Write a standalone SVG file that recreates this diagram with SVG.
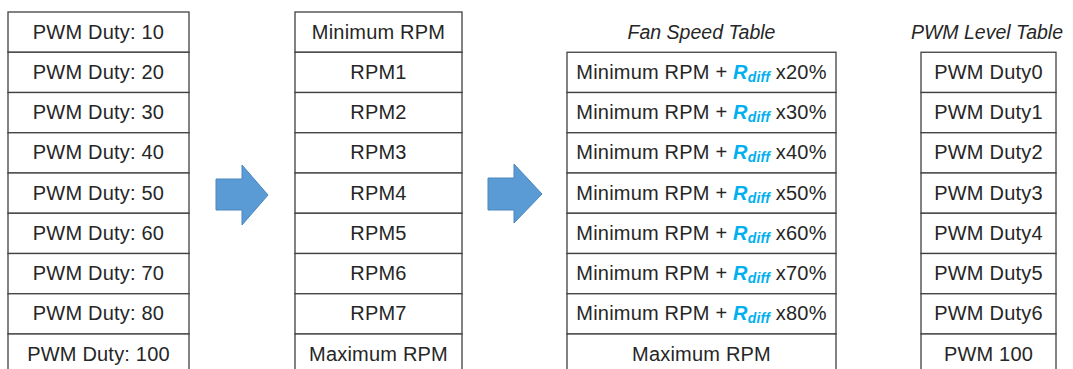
<svg xmlns="http://www.w3.org/2000/svg" width="1073" height="369" viewBox="0 0 1073 369">
<style>
.cell{fill:#fff;stroke:#404040;stroke-width:1.3}
.t{font-family:"Liberation Sans",Arial,sans-serif;font-size:20px;letter-spacing:0.2px;fill:#262626;text-anchor:middle}
.title{font-family:"Liberation Sans",Arial,sans-serif;font-size:19.5px;font-style:italic;fill:#262626;text-anchor:middle}
.r{font-weight:bold;font-style:italic;fill:#00B0F0}
.d{font-weight:bold;font-style:italic;fill:#00B0F0;font-size:14px}
.arrow{fill:#5B9BD5;stroke:#4A86BE;stroke-width:1}
</style>
<rect width="1073" height="369" fill="#fff"/>
<g id="col1">
<g id="c1r1"><rect class="cell" x="8" y="12" width="181" height="40.25"/><text class="t" x="98.5" y="38.5">PWM Duty: 10</text></g>
<g id="c1r2"><rect class="cell" x="8" y="52.25" width="181" height="40.25"/><text class="t" x="98.5" y="78.75">PWM Duty: 20</text></g>
<g id="c1r3"><rect class="cell" x="8" y="92.5" width="181" height="40.25"/><text class="t" x="98.5" y="119">PWM Duty: 30</text></g>
<g id="c1r4"><rect class="cell" x="8" y="132.75" width="181" height="40.25"/><text class="t" x="98.5" y="159.25">PWM Duty: 40</text></g>
<g id="c1r5"><rect class="cell" x="8" y="173" width="181" height="40.25"/><text class="t" x="98.5" y="199.5">PWM Duty: 50</text></g>
<g id="c1r6"><rect class="cell" x="8" y="213.25" width="181" height="40.25"/><text class="t" x="98.5" y="239.75">PWM Duty: 60</text></g>
<g id="c1r7"><rect class="cell" x="8" y="253.5" width="181" height="40.25"/><text class="t" x="98.5" y="280">PWM Duty: 70</text></g>
<g id="c1r8"><rect class="cell" x="8" y="293.75" width="181" height="40.25"/><text class="t" x="98.5" y="320.25">PWM Duty: 80</text></g>
<g id="c1r9"><rect class="cell" x="8" y="334" width="181" height="40.25"/><text class="t" x="98.5" y="360.5">PWM Duty: 100</text></g>
</g>
<g id="col2">
<g id="c2r1"><rect class="cell" x="295" y="12" width="167" height="40.25"/><text class="t" x="378.5" y="38.5">Minimum RPM</text></g>
<g id="c2r2"><rect class="cell" x="295" y="52.25" width="167" height="40.25"/><text class="t" x="378.5" y="78.75">RPM1</text></g>
<g id="c2r3"><rect class="cell" x="295" y="92.5" width="167" height="40.25"/><text class="t" x="378.5" y="119">RPM2</text></g>
<g id="c2r4"><rect class="cell" x="295" y="132.75" width="167" height="40.25"/><text class="t" x="378.5" y="159.25">RPM3</text></g>
<g id="c2r5"><rect class="cell" x="295" y="173" width="167" height="40.25"/><text class="t" x="378.5" y="199.5">RPM4</text></g>
<g id="c2r6"><rect class="cell" x="295" y="213.25" width="167" height="40.25"/><text class="t" x="378.5" y="239.75">RPM5</text></g>
<g id="c2r7"><rect class="cell" x="295" y="253.5" width="167" height="40.25"/><text class="t" x="378.5" y="280">RPM6</text></g>
<g id="c2r8"><rect class="cell" x="295" y="293.75" width="167" height="40.25"/><text class="t" x="378.5" y="320.25">RPM7</text></g>
<g id="c2r9"><rect class="cell" x="295" y="334" width="167" height="40.25"/><text class="t" x="378.5" y="360.5">Maximum RPM</text></g>
</g>
<g id="col3">
<text class="title" x="701.5" y="39">Fan Speed Table</text>
<g id="c3r1"><rect class="cell" x="567" y="52.25" width="269" height="40.25"/><text class="t" x="701.5" y="78.75">Minimum RPM + <tspan class="r">R</tspan><tspan class="d" dy="3">diff</tspan><tspan dy="-3"> x20%</tspan></text></g>
<g id="c3r2"><rect class="cell" x="567" y="92.5" width="269" height="40.25"/><text class="t" x="701.5" y="119">Minimum RPM + <tspan class="r">R</tspan><tspan class="d" dy="3">diff</tspan><tspan dy="-3"> x30%</tspan></text></g>
<g id="c3r3"><rect class="cell" x="567" y="132.75" width="269" height="40.25"/><text class="t" x="701.5" y="159.25">Minimum RPM + <tspan class="r">R</tspan><tspan class="d" dy="3">diff</tspan><tspan dy="-3"> x40%</tspan></text></g>
<g id="c3r4"><rect class="cell" x="567" y="173" width="269" height="40.25"/><text class="t" x="701.5" y="199.5">Minimum RPM + <tspan class="r">R</tspan><tspan class="d" dy="3">diff</tspan><tspan dy="-3"> x50%</tspan></text></g>
<g id="c3r5"><rect class="cell" x="567" y="213.25" width="269" height="40.25"/><text class="t" x="701.5" y="239.75">Minimum RPM + <tspan class="r">R</tspan><tspan class="d" dy="3">diff</tspan><tspan dy="-3"> x60%</tspan></text></g>
<g id="c3r6"><rect class="cell" x="567" y="253.5" width="269" height="40.25"/><text class="t" x="701.5" y="280">Minimum RPM + <tspan class="r">R</tspan><tspan class="d" dy="3">diff</tspan><tspan dy="-3"> x70%</tspan></text></g>
<g id="c3r7"><rect class="cell" x="567" y="293.75" width="269" height="40.25"/><text class="t" x="701.5" y="320.25">Minimum RPM + <tspan class="r">R</tspan><tspan class="d" dy="3">diff</tspan><tspan dy="-3"> x80%</tspan></text></g>
<g id="c3r8"><rect class="cell" x="567" y="334" width="269" height="40.25"/><text class="t" x="701.5" y="360.5">Maximum RPM</text></g>
</g>
<g id="col4">
<text class="title" x="987" y="39">PWM Level Table</text>
<g id="c4r1"><rect class="cell" x="921" y="52.25" width="135" height="40.25"/><text class="t" x="988.5" y="78.75">PWM Duty0</text></g>
<g id="c4r2"><rect class="cell" x="921" y="92.5" width="135" height="40.25"/><text class="t" x="988.5" y="119">PWM Duty1</text></g>
<g id="c4r3"><rect class="cell" x="921" y="132.75" width="135" height="40.25"/><text class="t" x="988.5" y="159.25">PWM Duty2</text></g>
<g id="c4r4"><rect class="cell" x="921" y="173" width="135" height="40.25"/><text class="t" x="988.5" y="199.5">PWM Duty3</text></g>
<g id="c4r5"><rect class="cell" x="921" y="213.25" width="135" height="40.25"/><text class="t" x="988.5" y="239.75">PWM Duty4</text></g>
<g id="c4r6"><rect class="cell" x="921" y="253.5" width="135" height="40.25"/><text class="t" x="988.5" y="280">PWM Duty5</text></g>
<g id="c4r7"><rect class="cell" x="921" y="293.75" width="135" height="40.25"/><text class="t" x="988.5" y="320.25">PWM Duty6</text></g>
<g id="c4r8"><rect class="cell" x="921" y="334" width="135" height="40.25"/><text class="t" x="988.5" y="360.5">PWM 100</text></g>
</g>
<g id="connectors">
<polygon class="arrow" points="216,179 242,179 242,165 268,195 242,225 242,210 216,210"/>
<polygon class="arrow" points="488,178 514,178 514,164 542,194 514,223 514,210 488,210"/>
</g>
</svg>
